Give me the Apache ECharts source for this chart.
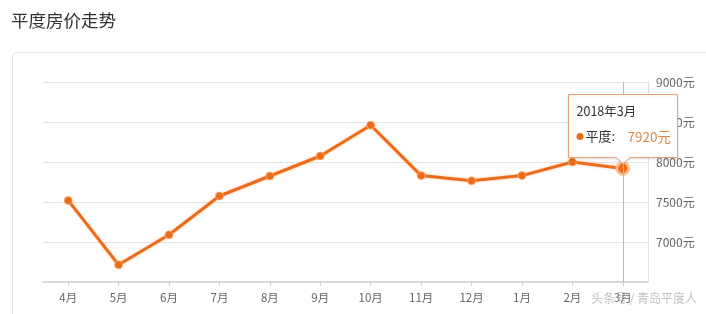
<!DOCTYPE html>
<html>
<head>
<meta charset="utf-8">
<script src="https://cdn.jsdelivr.net/npm/echarts@6/dist/echarts.min.js"></script>
<style>
html,body{margin:0;padding:0;background:#fff;}
#chart{width:706px;height:314px;}
</style>
</head>
<body>
<div id="chart"></div>
<script>
var categories = ['4月','5月','6月','7月','8月','9月','10月','11月','12月','1月','2月','3月'];
var periods = ['2017年4月','2017年5月','2017年6月','2017年7月','2017年8月','2017年9月','2017年10月','2017年11月','2017年12月','2018年1月','2018年2月','2018年3月'];
var prices = [7520, 6715, 7090, 7575, 7825, 8075, 8460, 7830, 7765, 7830, 8000, 7920];
var seriesName = '平度';
var yTicks = [6500, 7000, 7500, 8000, 8500, 9000];
var unit = '元';
var titleText = '平度房价走势';
var watermark = '头条号 / 青岛平度人';

var lineColor = '#ec6a1c';
var tipBorder = '#e9a674';
var focusIndex = prices.length - 1;
var FONT = 'Noto Sans CJK SC';

var seriesData = prices.map(function (v, i) {
  if (i === focusIndex) {
    return {
      value: v,
      symbolSize: 12,
      itemStyle: { color: lineColor, borderColor: 'rgba(250,195,150,0.85)', borderWidth: 3, shadowBlur: 0 }
    };
  }
  return v;
});

var baseGraphics = [
  {
    type: 'rect', left: 12, top: 52, z: -10, silent: true,
    shape: { width: 710, height: 280, r: 4 },
    style: { fill: '#fff', stroke: '#e6e6e6', lineWidth: 1 }
  },
  {
    type: 'text', left: 11, top: 12, silent: true,
    style: { text: titleText, fill: '#333', fontSize: 17.5, fontFamily: FONT }
  },
  {
    type: 'text', left: 591, top: 292, z: 100, silent: true,
    style: { text: watermark, fill: 'rgba(150,150,150,0.6)', fontSize: 12, fontFamily: FONT }
  }
];

var chart = echarts.init(document.getElementById('chart'), null, { renderer: 'canvas' });
chart.setOption({
  animation: false,
  backgroundColor: '#fff',
  graphic: baseGraphics,
  grid: { left: 43, right: 58, top: 82, bottom: 32, containLabel: false },
  xAxis: {
    type: 'category',
    data: categories,
    boundaryGap: true,
    axisLine: { show: true, lineStyle: { color: '#d9d9d9', width: 2 } },
    axisTick: { show: true, alignWithLabel: true, length: 4, lineStyle: { color: '#d0d0d0' } },
    axisLabel: { color: '#666', fontSize: 11.5, margin: 10, fontFamily: FONT },
    splitLine: { show: false },
    axisPointer: {
      show: true,
      type: 'line',
      value: categories[focusIndex],
      status: 'show',
      triggerTooltip: false,
      snap: true,
      lineStyle: { color: '#bbb', width: 1, type: 'solid' },
      label: { show: false }
    }
  },
  yAxis: {
    type: 'value',
    position: 'right',
    min: yTicks[0],
    max: yTicks[yTicks.length - 1],
    interval: yTicks[1] - yTicks[0],
    axisLine: { show: true, lineStyle: { color: '#e2e2e2', width: 1 } },
    axisTick: { show: false },
    axisLabel: {
      color: '#666', fontSize: 12, margin: 8, fontFamily: FONT,
      formatter: function (v) { return v === yTicks[0] ? '' : v + unit; }
    },
    splitLine: { show: true, lineStyle: { color: '#e3e3e3', width: 1 } }
  },
  series: [{
    name: seriesName,
    type: 'line',
    data: seriesData,
    symbol: 'circle',
    symbolSize: 8,
    lineStyle: { color: lineColor, width: 3, shadowColor: 'rgba(255,170,100,0.6)', shadowBlur: 3 },
    itemStyle: { color: lineColor, borderColor: 'rgba(255,180,120,0.7)', borderWidth: 1 },
    emphasis: { disabled: true }
  }]
});

// Tooltip-like callout anchored at the focused data point (position from the chart's own scales)
var pt = chart.convertToPixel({ seriesIndex: 0 }, [focusIndex, prices[focusIndex]]);
var W = 109, H = 63, AH = 6, AW = 7, TZ = 1000;
var bx = Math.round(pt[0] - W / 2) + 0.5, by = Math.round(pt[1] - H - AH - 5) + 0.5;
var tip = {
  type: 'group', x: bx, y: by, z: TZ, zlevel: 1, silent: true,
  children: [
    {
      type: 'polygon', z: TZ, zlevel: 1,
      shape: { points: [[0, 0], [W, 0], [W, H], [W / 2 + AW, H], [W / 2, H + AH], [W / 2 - AW, H], [0, H]] },
      style: { fill: '#ffffff', stroke: tipBorder, lineWidth: 1, shadowColor: 'rgba(0,0,0,0.12)', shadowBlur: 3, shadowOffsetY: 1 }
    },
    {
      type: 'text', x: 8, y: 17, z: TZ + 1, zlevel: 1,
      style: { text: periods[focusIndex], fill: '#333', fontSize: 12.5, fontFamily: FONT, verticalAlign: 'middle' }
    },
    {
      type: 'circle', z: TZ + 1, zlevel: 1, shape: { cx: 11.5, cy: 42, r: 3.5 },
      style: { fill: lineColor }
    },
    {
      type: 'text', x: 17, y: 42, z: TZ + 1, zlevel: 1,
      style: { text: seriesName + ':', fill: '#333', fontSize: 13, fontFamily: FONT, verticalAlign: 'middle' }
    },
    {
      type: 'text', x: 59, y: 42, z: TZ + 1, zlevel: 1,
      style: { text: prices[focusIndex] + unit, fill: '#d98a4a', fontSize: 13.5, fontFamily: FONT, verticalAlign: 'middle' }
    }
  ]
};
chart.setOption({ graphic: baseGraphics.concat([tip]) });
</script>
</body>
</html>
